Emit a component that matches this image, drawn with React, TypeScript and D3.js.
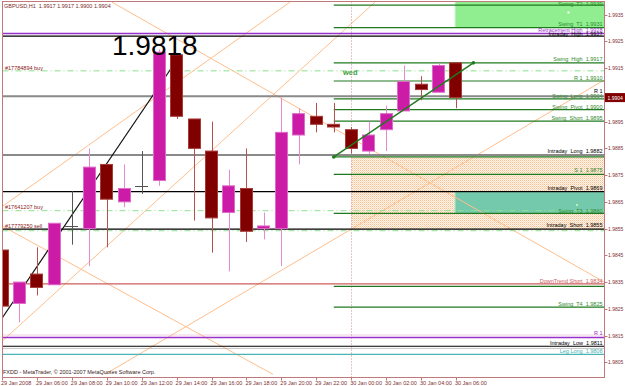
import React from "react";
import * as d3 from "d3";

// ---------- DATA ----------
const candleOpen = [1.9847, 1.9827, 1.9838, 1.9834, 1.9856, 1.9855, 1.9879, 1.9865, 1.9871, 1.9873, 1.9920, 1.9896, 1.9884, 1.9861, 1.9870, 1.9855, 1.9855, 1.9890, 1.9897, 1.9894, 1.9892, 1.9884, 1.9892, 1.9899, 1.9909, 1.9906, 1.9917];
const candleHigh = [1.9851, 1.9835, 1.9848, 1.9857, 1.9869, 1.9885, 1.9879, 1.9879, 1.9884, 1.9922, 1.9920, 1.9896, 1.9895, 1.9877, 1.9885, 1.9861, 1.9904, 1.9900, 1.9902, 1.9902, 1.9893, 1.9895, 1.9901, 1.9916, 1.9912, 1.9917, 1.9917];
const candleLow = [1.9824, 1.9820, 1.9830, 1.9834, 1.9849, 1.9841, 1.9848, 1.9863, 1.9868, 1.9871, 1.9896, 1.9858, 1.9846, 1.9839, 1.9850, 1.9851, 1.9841, 1.9879, 1.9891, 1.9891, 1.9883, 1.9883, 1.9884, 1.9899, 1.9903, 1.9906, 1.9900];
const candleClose = [1.9826, 1.9835, 1.9833, 1.9857, 1.9856, 1.9878, 1.9866, 1.9870, 1.9871, 1.9921, 1.9897, 1.9885, 1.9859, 1.9871, 1.9854, 1.9856, 1.9891, 1.9898, 1.9894, 1.9893, 1.9885, 1.9890, 1.9898, 1.9910, 1.9907, 1.9916, 1.9904];

const timeTickIndex = [0, 2, 4, 6, 8, 10, 12, 14, 16, 18, 20, 22, 24, 26];
const timeTickLabels = ["29 Jan 2008", "29 Jan 06:00", "29 Jan 08:00", "29 Jan 10:00", "29 Jan 12:00", "29 Jan 14:00", "29 Jan 16:00", "29 Jan 18:00", "29 Jan 20:00", "29 Jan 22:00", "30 Jan 00:00", "30 Jan 02:00", "30 Jan 04:00", "30 Jan 06:00"];

const priceTicks = [1.9935, 1.9925, 1.9915, 1.9905, 1.9895, 1.9885, 1.9875, 1.9865, 1.9855, 1.9845, 1.9835, 1.9825, 1.9815, 1.9805];

// full-width horizontal levels
const fullLevelPrices = [1.9928, 1.9927, 1.99045, 1.98825, 1.98688, 1.98548, 1.98343, 1.98143, 1.9811, 1.9808];
const fullLevelKinds = ["purple", "black", "gray", "gray", "black", "black", "red", "purple", "black", "teal"];

// auxiliary dotted levels
const dottedLevelPrices = [1.98152, 1.98102];
const dottedLevelKinds = ["pink", "gray"];

// order lines
const orderPrices = [1.9914, 1.98617, 1.98542];
const orderLabels = ["#17784894 buy", "#17641207 buy", "#17779250 sell"];
const orderLabelPrices = [1.99142, 1.98622, 1.98553];

// swing levels (start at bar 19)
const swingStartIndex = 19;
const swingLevelPrices = [1.99386, 1.99302, 1.9917, 1.99102, 1.99035, 1.98995, 1.98952, 1.98818, 1.98753, 1.98607, 1.98334, 1.98256];

// right side labels
const rightLabelTexts = ["Swing  T2  1.9939", "Swing  T1  1.9931", "Retracement High  1.9928", "Intraday  High  1.9927", "Swing  High  1.9917", "R 1  1.9910", "R 1", "Swing  Long  1.9904", "Swing  Pivot  1.9900", "Swing  Short  1.9895", "Intraday  Long  1.9882", "S 1  1.9875", "Intraday  Pivot  1.9869", "Swing  T3  1.9860", "Intraday  Short  1.9855", "DownTrend Short  1.9834", "Swing  T4  1.9825", "R 1", "Intraday  Low  1.9811", "Leg Long  1.9808"];
const rightLabelPrices = [1.99381, 1.99306, 1.99284, 1.99272, 1.99175, 1.99105, 1.99058, 1.99037, 1.98997, 1.98956, 1.98831, 1.98762, 1.98694, 1.9861, 1.98556, 1.98345, 1.98259, 1.98152, 1.98115, 1.98083];
const rightLabelKinds = ["green", "green", "purple", "black", "green", "green", "black", "green", "green", "green", "black", "green", "black", "green", "black", "red", "green", "purple", "black", "teal"];

// zones [startIndex, topPrice, bottomPrice]
const peachZone = [20, 1.98818, 1.98548];
const greenBox = [25.95, 1.9942, 1.99302];
const tealBox = [25.95, 1.98688, 1.98607];

// trend lines [i1, p1, i2, p2]
const blackTrend = [-0.1, 1.98205, 9.8, 1.9916];
const greenTrend = [19, 1.98818, 27, 1.9917];
const orangeTrends = [
  [-0.11, 1.98627, 16.49, 1.99397],
  [-0.11, 1.98122, 21.36, 1.99397],
  [6.3, 1.99397, 34.5, 1.9835],
  [5.9, 1.98005, 34.5, 1.99106],
  [-0.11, 1.98564, 15.52, 1.98005],
];

const sessionIndex = 20;
const currentPrice = 1.9904;
const headerText = "GBPUSD,H1  1.9917 1.9917 1.9900 1.9904";
const bigLabel = { text: "1.9818", index: 6.3, price: 1.99199 };
const dayLabel = { text: "wed", index: 19.53, price: 1.99123 };
const copyright = "FXDD - MetaTrader, \u00a9 2001-2007 MetaQuotes Software Corp.";

// ---------- CHART ----------
export default function App() {
  const W = 625, H = 386;
  const left = 2.5, right = 604.5, top = 1.5, bottom = 377.5;
  const x = d3.scaleLinear().domain([0, 26]).range([2, 2 + 17.46 * 26]);
  const y = d3.scaleLinear().domain([1.9805, 1.9935]).range([362.3, 14.7]);
  const font = "'Liberation Sans', Arial, sans-serif";

  const levelColor: Record<string, string> = {
    purple: "#9932CC", black: "#000000", gray: "#8a8a8a", red: "#CD5C5C", teal: "#4AB3B3",
    green: "#2E8B2E", pink: "#E0A0C0",
  };
  const levelWidth: Record<string, number> = { purple: 1.5, black: 1.2, gray: 2, red: 1.2, teal: 1.3 };
  const line = d3.line<[number, number]>();

  const bodyW = 13;

  return (
    <svg width={W} height={H} style={{ position: "absolute", left: 0, top: 0, display: "block", background: "#fff" }}>
      <defs>
        <clipPath id="plot">
          <rect x={3} y={2} width={601} height={375} />
        </clipPath>
        <pattern id="peach" patternUnits="userSpaceOnUse" width={2} height={2}>
          <rect width={2} height={2} fill="#FFF7EF" />
          <rect x={0} y={0} width={1} height={1} fill="#F7BE8E" />
          <rect x={1} y={1} width={1} height={1} fill="#FBD8B8" />
        </pattern>
      </defs>
      <rect width={W} height={H} fill="#fff" />

      <g clipPath="url(#plot)">
        {/* zones */}
        <rect x={x(peachZone[0])} y={y(peachZone[1])} width={right - x(peachZone[0])} height={y(peachZone[2]) - y(peachZone[1])} fill="url(#peach)" />
        <rect x={x(greenBox[0])} y={y(greenBox[1])} width={right - x(greenBox[0])} height={y(greenBox[2]) - y(greenBox[1])} fill="#90EE90" stroke="#C8F5C8" strokeWidth={1} />
        <rect x={x(tealBox[0])} y={y(tealBox[1])} width={right - x(tealBox[0])} height={y(tealBox[2]) - y(tealBox[1])} fill="#74C9AC" stroke="#A8E8C0" strokeWidth={1} />
        <rect x={567.5} y={y(1.99362)} width={2} height={2} fill="#ffffff" />
        <rect x={576} y={y(1.98642)} width={2} height={2} fill="#B8F0B8" />

        {/* orange fan lines */}
        {orangeTrends.map((t, k) => (
          <path key={"o" + k} d={line([[x(t[0]), y(t[1])], [x(t[2]), y(t[3])]]) || ""} stroke="#FFBE8C" strokeWidth={1} fill="none" />
        ))}

        {/* session separator */}
        <line x1={Math.round(x(sessionIndex)) + 0.5} x2={Math.round(x(sessionIndex)) + 0.5} y1={top} y2={bottom} stroke="#D08A8A" strokeDasharray="1 2" />

        {/* full width levels */}
        {fullLevelPrices.map((p, k) => (
          <line key={"f" + k} x1={left} x2={right} y1={y(p)} y2={y(p)} stroke={levelColor[fullLevelKinds[k]]} strokeWidth={levelWidth[fullLevelKinds[k]]} />
        ))}
        {dottedLevelPrices.map((p, k) => (
          <line key={"d" + k} x1={left} x2={right} y1={y(p)} y2={y(p)} stroke={levelColor[dottedLevelKinds[k]]} strokeWidth={1} strokeDasharray="1 1" />
        ))}

        {/* order lines */}
        {orderPrices.map((p, k) => (
          <line key={"ord" + k} x1={left} x2={right} y1={y(p)} y2={y(p)} stroke="#8FE08F" strokeWidth={1} strokeDasharray="6 3 1 3" />
        ))}

        {/* swing levels */}
        {swingLevelPrices.map((p, k) => (
          <line key={"s" + k} x1={x(swingStartIndex)} x2={right} y1={y(p)} y2={y(p)} stroke="#1F7A1F" strokeWidth={1.2} />
        ))}

        {/* black trend */}
        <path d={line([[x(blackTrend[0]), y(blackTrend[1])], [x(blackTrend[2]), y(blackTrend[3])]]) || ""} stroke="#111" strokeWidth={1.2} fill="none" />

        {/* candles */}
        {candleOpen.map((o, i) => {
          const c = candleClose[i];
          const cx = Math.round(x(i)) + 0.5;
          const bull = c > o;
          const doji = c === o;
          const wickColor = doji ? "#555" : bull ? "#E58AD0" : "#B85050";
          const yt = y(Math.max(o, c));
          const yb = y(Math.min(o, c));
          const bx = Math.round(x(i) - bodyW / 2);
          return (
            <g key={"c" + i}>
              <line x1={cx} x2={cx} y1={y(candleHigh[i])} y2={y(candleLow[i])} stroke={wickColor} strokeWidth={1} />
              {doji ? (
                <line x1={bx} x2={bx + bodyW} y1={Math.round(yt) + 0.5} y2={Math.round(yt) + 0.5} stroke="#555" strokeWidth={1} />
              ) : (
                <rect x={bx + 0.5} y={yt} width={bodyW - 1} height={Math.max(1, yb - yt)} fill={bull ? "#CC1BA7" : "#800000"} stroke={bull ? "#DE6CC8" : "#A83A3A"} strokeWidth={1} />
              )}
            </g>
          );
        })}

        {/* green trend */}
        <path d={line([[x(greenTrend[0]), y(greenTrend[1])], [x(greenTrend[2]), y(greenTrend[3])]]) || ""} stroke="#1F7A1F" strokeWidth={1.4} fill="none" />
        <circle cx={x(greenTrend[0])} cy={y(greenTrend[1])} r={1.8} fill="#1F7A1F" />
        <circle cx={x(greenTrend[2])} cy={y(greenTrend[3])} r={1.8} fill="#1F7A1F" />

        {/* texts */}
        <text x={x(bigLabel.index)} y={y(bigLabel.price)} fontFamily={font} fontSize={28} fill="#000">{bigLabel.text}</text>
        <text x={x(dayLabel.index)} y={y(dayLabel.price)} fontFamily={font} fontSize={7.5} fontWeight="bold" fill="#3DA03D">{dayLabel.text}</text>
        {orderLabels.map((t, k) => (
          <text key={"ol" + k} x={5} y={y(orderLabelPrices[k])} fontFamily={font} fontSize={5.5} fill="#8B2020">{t}</text>
        ))}
        {rightLabelTexts.map((t, k) => (
          <text key={"rl" + k} x={602.5} y={y(rightLabelPrices[k])} textAnchor="end" fontFamily={font} fontSize={5.5} fill={levelColor[rightLabelKinds[k]]} style={{ whiteSpace: "pre" }}>{t}</text>
        ))}
        <text x={4} y={8} fontFamily={font} fontSize={5.5} fill="#7A2A2A" style={{ whiteSpace: "pre" }}>{headerText}</text>
        <text x={3} y={373.5} fontFamily={font} fontSize={5.5} fill="#3A2020">{copyright}</text>
      </g>

      {/* frame */}
      <rect x={left} y={top} width={right - left} height={bottom - top} fill="none" stroke="#C07878" strokeWidth={1} />

      {/* price axis */}
      {priceTicks.map((p, k) => (
        <g key={"pt" + k}>
          <line x1={right} x2={right + 3} y1={Math.round(y(p)) + 0.5} y2={Math.round(y(p)) + 0.5} stroke="#C07878" />
          <text x={608} y={y(p) + 2} fontFamily={font} fontSize={5} fill="#803030">{p.toFixed(4)}</text>
        </g>
      ))}
      <rect x={605} y={y(currentPrice) - 4.5} width={20} height={9} fill="#800000" />
      <text x={607.5} y={y(currentPrice) + 2} fontFamily={font} fontSize={5} fill="#ffffff">{currentPrice.toFixed(4)}</text>

      {/* time axis */}
      {timeTickIndex.map((ti, k) => (
        <g key={"tt" + k}>
          <line x1={Math.round(x(ti)) + 0.5} x2={Math.round(x(ti)) + 0.5} y1={bottom} y2={bottom + 3} stroke="#C07878" />
          <text x={x(ti) - 1} y={384.5} fontFamily={font} fontSize={5.5} fill="#803030">{timeTickLabels[k]}</text>
        </g>
      ))}
    </svg>
  );
}
